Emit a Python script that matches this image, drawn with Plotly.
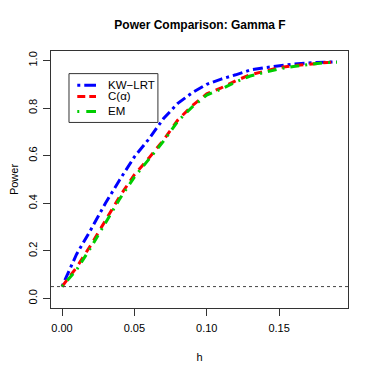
import plotly.graph_objects as go

h = [0.00, 0.01, 0.02, 0.03, 0.04, 0.05, 0.06, 0.07, 0.08, 0.09,
     0.10, 0.11, 0.12, 0.13, 0.14, 0.15, 0.16, 0.17, 0.18, 0.19]
kw_lrt = [0.05, 0.185, 0.29, 0.40, 0.50, 0.595, 0.67, 0.755, 0.82, 0.865,
          0.90, 0.922, 0.94, 0.96, 0.97, 0.978, 0.985, 0.99, 0.993, 0.995]
c_alpha = [0.05, 0.13, 0.225, 0.33, 0.43, 0.52, 0.59, 0.665, 0.75, 0.81,
           0.86, 0.885, 0.915, 0.94, 0.955, 0.97, 0.978, 0.985, 0.99, 0.995]
em = [0.05, 0.12, 0.215, 0.32, 0.42, 0.51, 0.585, 0.66, 0.745, 0.805,
      0.855, 0.88, 0.91, 0.935, 0.95, 0.965, 0.975, 0.983, 0.99, 0.993]
series_names = ["KW\u2212LRT", "C(\u03b1)", "EM"]
alpha_level = 0.05
x_ticks = [0.00, 0.05, 0.10, 0.15]
x_labels = ["0.00", "0.05", "0.10", "0.15"]
y_ticks = [0.0, 0.2, 0.4, 0.6, 0.8, 1.0]
y_labels = ["0.0", "0.2", "0.4", "0.6", "0.8", "1.0"]

colors = ["#0000FF", "#FF0000", "#00CD00"]
dashes = ["3px,4px,10px,4px", "8px,6px", "2px,6px,9px,6px"]
series = [kw_lrt, c_alpha, em]

fig = go.Figure()
for name, ys, col, dsh in zip(series_names, series, colors, dashes):
    fig.add_trace(go.Scatter(x=h, y=ys, mode="lines", name=name, showlegend=False,
                             line=dict(color=col, width=3, dash=dsh)))

fig.add_shape(type="line", xref="paper", yref="y", x0=0, x1=1,
              y0=alpha_level, y1=alpha_level,
              line=dict(color="#444444", width=1, dash="dot"))

# custom legend (R-style box) in paper coordinates
fig.add_shape(type="rect", xref="paper", yref="paper",
              x0=0.0606, x1=0.360, y0=0.722, y1=0.912,
              line=dict(color="#333333", width=1), fillcolor="white")
row_y = [0.867, 0.823, 0.765]
legend_dashes = ["3px,4px,12px,4px", "8px,4px", "2px,7px,10px,6px"]
for name, col, dsh, ry in zip(series_names, colors, legend_dashes, row_y):
    fig.add_shape(type="line", xref="paper", yref="paper",
                  x0=0.0885, x1=0.1515, y0=ry, y1=ry,
                  line=dict(color=col, width=3, dash=dsh))
    fig.add_annotation(xref="paper", yref="paper", x=0.184, y=ry,
                       xanchor="left", yanchor="middle", text=name,
                       showarrow=False, font=dict(size=11.5, color="black"))

font = "Liberation Sans, Arial, Helvetica, sans-serif"
fig.update_layout(
    width=366, height=366,
    margin=dict(l=43, r=26, t=43, b=66, autoexpand=False),
    paper_bgcolor="white", plot_bgcolor="white",
    font=dict(family=font, size=11, color="black"),
    title=dict(text="<b>Power Comparison: Gamma F</b>", x=0.5246, xanchor="center",
               y=0.954, yanchor="middle", font=dict(size=12)),
    showlegend=False,
)
fig.update_xaxes(range=[-0.0076, 0.1976], tickvals=x_ticks, ticktext=x_labels,
                 showgrid=False, zeroline=False, showline=True, mirror=True,
                 linecolor="#333333", linewidth=1, ticks="outside", ticklen=7,
                 tickcolor="#333333", tickfont=dict(size=11), automargin=False,
                 ticklabelstandoff=3,
                 title=dict(text="h", standoff=20, font=dict(size=11)))
fig.update_yaxes(range=[-0.04, 1.04], tickvals=y_ticks, ticktext=y_labels,
                 showgrid=False, zeroline=False, showline=True, mirror=True,
                 linecolor="#333333", linewidth=1, ticks="outside", ticklen=7,
                 tickcolor="#333333", tickangle=-90, tickfont=dict(size=11),
                 automargin=False, ticklabelstandoff=2,
                 title=dict(text="Power", standoff=14, font=dict(size=11)))

fig.write_html("out.html")
